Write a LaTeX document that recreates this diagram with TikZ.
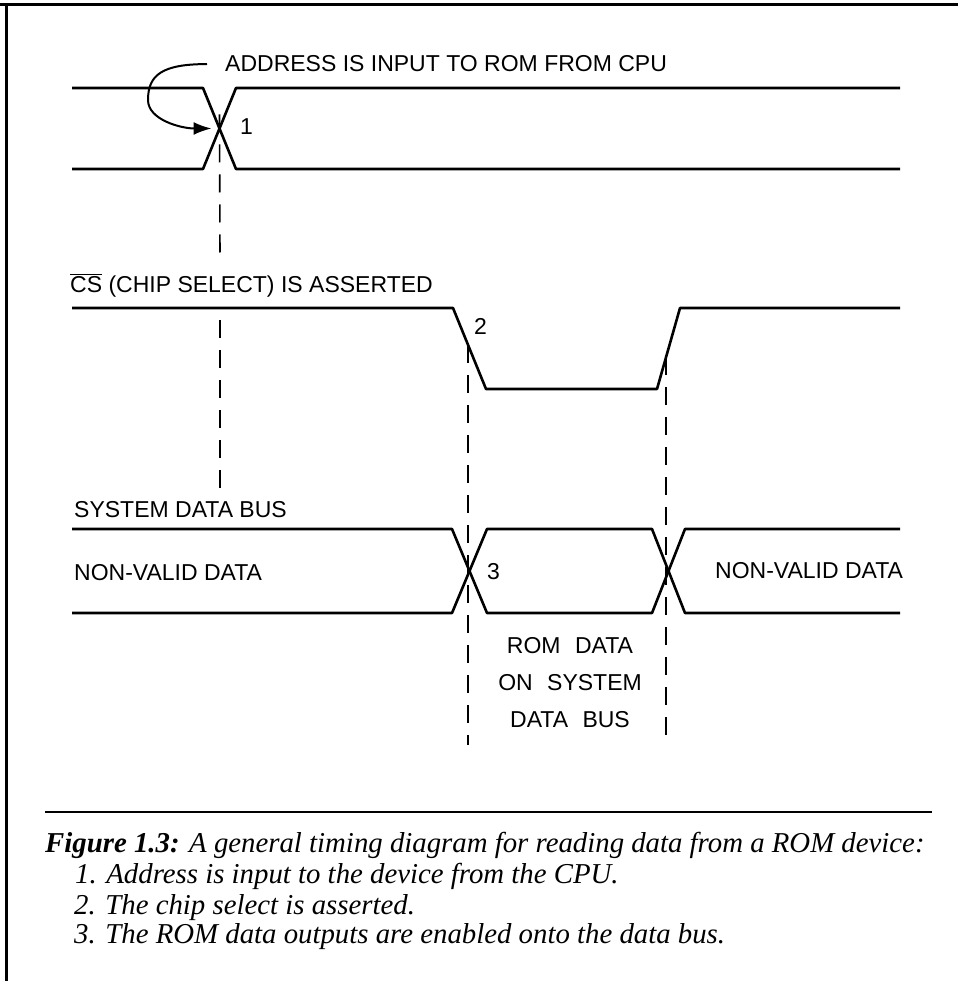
\documentclass[tikz,border=0pt]{standalone}
\usepackage{fontspec}
\setmainfont{Liberation Sans}
\newfontfamily\capfont{Liberation Serif}
\usetikzlibrary{arrows.meta, positioning}
\tikzset{
	frame/.style  ={line width=3pt},
	sig/.style    ={line width=2.6pt, line join=round},
	guide/.style  ={line width=1.6pt, dash pattern=on 18pt off 12pt},
	lbl/.style    ={inner sep=0pt, anchor=base west},
	romlbl/.style ={inner sep=0pt, anchor=base},
	capline/.style={inner sep=0pt, anchor=base west, font=\capfont\itshape\fontsize{28.8}{30}\selectfont},
	callout/.style={line width=2pt, -{Latex[length=18pt, width=13pt]}},
}
\begin{document}
\begin{tikzpicture}[x=1pt, y=-1pt, font=\fontsize{23}{27}\selectfont]
	\useasboundingbox (0,0) rectangle (958,981);
	\draw[frame] (0,5) -- (958,5);
	\draw[frame] (6,5) -- (6,981);
	\coordinate (x1) at (219.5,128.5);
	\coordinate (g1a) at (220,258);
	\coordinate (g1b) at (220,320);
	\coordinate (e2) at (468,345);
	\coordinate (e2b) at (666,357);
	\coordinate (g1) at (220,495);
	\coordinate (g2) at (468,745);
	\coordinate (g2b) at (666,745);
	\draw[guide] ([yshift=14pt]x1) -- (g1a);
	\draw[guide] (g1b) -- (g1);
	\draw[guide] (e2) -- (g2);
	\draw[guide] (e2b) -- (g2b);
	\node[lbl] (addr) at (225,72) {ADDRESS IS INPUT TO ROM FROM CPU};
	\node[lbl] (n1) at (240,135) {1};
	\draw[sig] (72,88) -- (203,88) -- (236,169) -- (900,169);
	\draw[sig] (72,169) -- (203,169) -- (236,88) -- (900,88);
	\draw[callout] ([xshift=-18pt]addr.west) .. controls +(-45,0) and +(0,-25) .. (148,100) .. controls +(0,20) and +(-30,0) .. ([xshift=-8pt]x1);
	\node[lbl] (cs) at (70,292) {$\overline{\hbox{CS}}$ (CHIP SELECT) IS ASSERTED};
	\draw[sig] (72,308) -- (453,308) -- (486,389) -- (657,389) -- (680,308) -- (900,308);
	\node[lbl] (n2) at (474,334) {2};
	\node[lbl] (sdb) at (74,517) {SYSTEM DATA BUS};
	\draw[sig] (72,529) -- (452,529) -- (487,613) -- (652,613) -- (685,529) -- (900,529);
	\draw[sig] (72,613) -- (452,613) -- (487,529) -- (652,529) -- (685,613) -- (900,613);
	\node[lbl] (nvl) at (74,580) {NON-VALID DATA};
	\node[lbl] (nvr) at (715,578) {NON-VALID DATA};
	\node[lbl] (n3) at (487,579) {3};
	\node[romlbl] (rom1) at (570,653) {ROM\hspace{.35em} DATA};
	\node[romlbl] (rom2) at (570,690) {ON\hspace{.35em} SYSTEM};
	\node[romlbl] (rom3) at (570,727) {DATA\hspace{.35em} BUS};
	\draw[line width=2pt] (45,812) -- (932,812);
	\node[capline] (cap1) at (45,852) {\textbf{Figure 1.3:} A general timing diagram for reading data from a ROM device:};
	\node[capline] (cap2) at (75,883) {1. Address is input to the device from the CPU.};
	\node[capline] (cap3) at (74,914) {2. The chip select is asserted.};
	\node[capline] (cap4) at (74,943) {3. The ROM data outputs are enabled onto the data bus.};
\end{tikzpicture}
\end{document}
